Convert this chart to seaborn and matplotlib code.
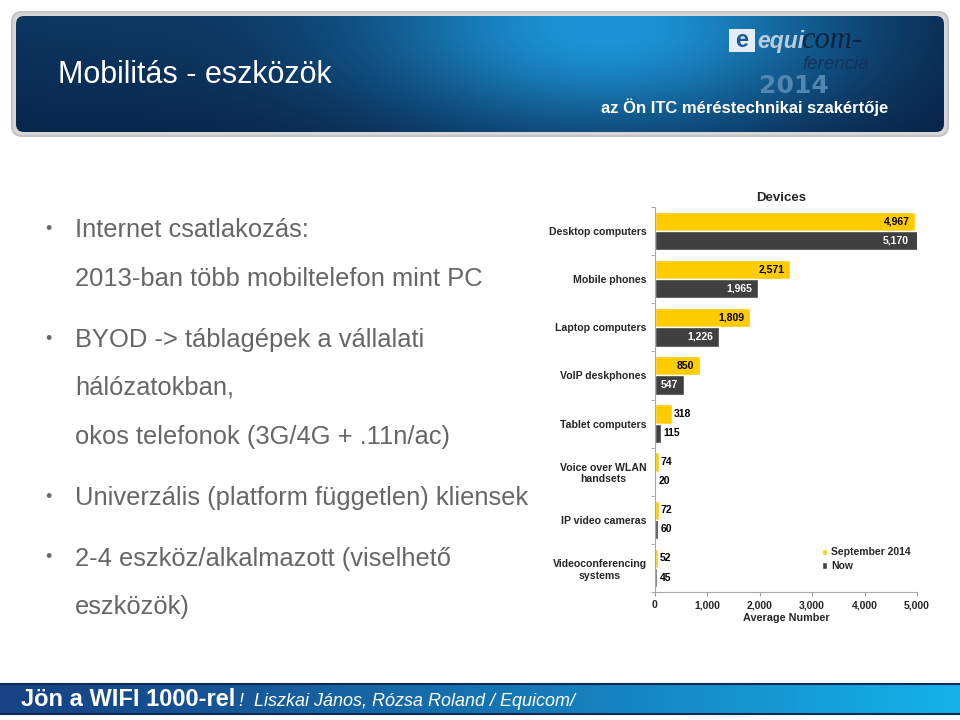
import numpy as np
import pandas as pd
import matplotlib
matplotlib.use("Agg")
import matplotlib.pyplot as plt
from matplotlib.patches import FancyBboxPatch, Rectangle
import seaborn as sns

# ---------------- data ----------------
categories = ["Desktop computers", "Mobile phones", "Laptop computers", "VoIP deskphones",
              "Tablet computers", "Voice over WLAN\nhandsets", "IP video cameras",
              "Videoconferencing\nsystems"]
sept_2014 = [4967, 2571, 1809, 850, 318, 74, 72, 52]
now_vals = [5170, 1965, 1226, 547, 115, 20, 60, 45]
series_names = ["September 2014", "Now"]
x_ticks = [0, 1000, 2000, 3000, 4000, 5000]

slide_title = "Mobilitás - eszközök"
bullet_lines = [
    (True, "Internet csatlakozás:"),
    (False, "2013-ban több mobiltelefon mint PC"),
    (True, "BYOD -> táblagépek a vállalati"),
    (False, "hálózatokban,"),
    (False, "okos telefonok (3G/4G + .11n/ac)"),
    (True, "Univerzális (platform független) kliensek"),
    (True, "2-4 eszköz/alkalmazott (viselhető"),
    (False, "eszközök)"),
]
bullet_baselines = [237, 286, 347, 395, 444, 505, 566, 614]

df = pd.DataFrame({
    "Device": categories * 2,
    "Series": [series_names[0]] * len(categories) + [series_names[1]] * len(categories),
    "Value": sept_2014 + now_vals,
})

# ---------------- style ----------------
sns.set_style("white")
plt.rcParams["font.family"] = ["Liberation Sans", "DejaVu Sans"]

fig = plt.figure(figsize=(9.6, 7.2), dpi=100)
fig.patch.set_facecolor("white")

# background axes in pixel coordinates
bg = fig.add_axes([0, 0, 1, 1], zorder=0)
bg.set_xlim(0, 960)
bg.set_ylim(720, 0)
bg.axis("off")

# header banner
shadow = FancyBboxPatch((12, 12), 936, 124, boxstyle="round,pad=0,rounding_size=10",
                        fc="#d6d6d6", ec="#c4c4c4", lw=1.5, transform=bg.transData)
bg.add_patch(shadow)
banner = FancyBboxPatch((16, 16), 928, 116, boxstyle="round,pad=0,rounding_size=8",
                        fc="none", ec="none", transform=bg.transData)
bg.add_patch(banner)
W, H = 600, 120
xs = np.linspace(0, 1, W)[None, :]
ys = np.linspace(0, 1, H)[:, None]
dark = np.array([0.03, 0.11, 0.25])
light = np.array([0.11, 0.58, 0.84])
t = np.exp(-((xs - 0.64) / 0.27) ** 2 - ((ys - 0.1) / 0.95) ** 2)
t = t + 0.22 * np.exp(-((xs - 0.05) / 0.35) ** 2) * (1 - 0.6 * ys)
t = np.clip(t, 0, 1)
img = dark[None, None, :] + t[:, :, None] * (light - dark)[None, None, :]
im = bg.imshow(img, extent=[16, 944, 132, 16], aspect="auto", interpolation="bilinear", zorder=1)
im.set_clip_path(banner)

bg.text(58, 83, slide_title, color="white", fontsize=22, va="baseline", ha="left", zorder=3)

# logo
bg.add_patch(Rectangle((729, 29), 26, 23, fc="#e4ecf4", ec="none", zorder=3))
bg.text(742, 40.5, "e", color="#1c5a9a", fontsize=17, fontweight="bold", ha="center",
        va="center", zorder=4)
bg.text(757, 48, "equi", color="#bccbdb", fontsize=16.5, fontweight="bold", style="italic",
        ha="left", va="baseline", zorder=3)
bg.text(801, 48, "com-", color="#0f2442", fontsize=22, style="italic", family="Liberation Serif",
        ha="left", va="baseline", zorder=3)
bg.text(759, 93, "2014", color="#5b8db5", fontsize=18, fontweight="bold",
        family="DejaVu Sans", ha="left", va="baseline", alpha=0.9, zorder=3)
bg.text(802, 69, "ferencia", color="#13335c", fontsize=13.5, style="italic", ha="left",
        va="baseline", zorder=4)
bg.text(888, 113, "az Ön ITC méréstechnikai szakértője", color="white", fontsize=12,
        fontweight="bold", ha="right", va="baseline", zorder=3)

# bullets
for (has_bullet, line), y in zip(bullet_lines, bullet_baselines):
    if has_bullet:
        bg.text(48, y - 8, "•", color="#6a6a6a", fontsize=13, ha="center", va="center")
    bg.text(75, y, line, color="#666666", fontsize=18.4, ha="left", va="baseline")

# footer
fw, fh = 600, 10
fx = np.linspace(0, 1, fw)[None, :]
c0 = np.array([0.09, 0.26, 0.52])
c1 = np.array([0.08, 0.70, 0.92])
fimg = c0[None, None, :] + (fx ** 1.2)[:, :, None] * (c1 - c0)[None, None, :]
fimg = np.repeat(fimg, fh, axis=0)
bg.imshow(fimg, extent=[0, 960, 714, 684], aspect="auto", zorder=1)
bg.plot([0, 960], [684, 684], color="#0e2a50", lw=1.5, zorder=2)
bg.plot([0, 960], [714, 714], color="#0e2a50", lw=1.5, zorder=2)
bg.text(21, 706, "Jön a WIFI 1000-rel", color="white", fontsize=17, fontweight="bold",
        ha="left", va="baseline", zorder=3)
bg.text(239, 706, "!  Liszkai János, Rózsa Roland / Equicom/", color="white", fontsize=13,
        style="italic", ha="left", va="baseline", zorder=3)

# ---------------- chart ----------------
ax = fig.add_axes([655 / 960, 1 - 592 / 720, 262 / 960, 385 / 720], zorder=2)
ax.patch.set_alpha(0)
palette = {series_names[0]: "#FFCC00", series_names[1]: "#404040"}
sns.barplot(data=df, y="Device", x="Value", hue="Series", hue_order=series_names,
            palette=palette, orient="h", width=0.8, saturation=1, ax=ax, legend=True)

ax.set_xlim(0, 5000)
ax.set_xticks(x_ticks)
ax.set_xticklabels([f"{v:,}" for v in x_ticks], fontsize=7.5, fontweight="bold")
ax.set_ylabel("")
ax.set_xlabel("Average Number", fontsize=7.8, fontweight="bold", labelpad=2)
ax.set_title("Devices", fontsize=9.5, fontweight="bold", pad=4, x=0.48)
for lbl in ax.get_yticklabels():
    lbl.set_fontsize(7.6)
    lbl.set_fontweight("bold")
    lbl.set_multialignment("center")
ax.tick_params(axis="y", length=0, pad=6)
ax.tick_params(axis="x", length=3, color="#999999", pad=3, direction="out", bottom=True)
ax.set_yticks(np.arange(-0.5, len(categories), 1.0), minor=True)
ax.tick_params(axis="y", which="minor", length=3, color="#999999", left=True)
for s in ["top", "right"]:
    ax.spines[s].set_visible(False)
for s in ["left", "bottom"]:
    ax.spines[s].set_color("#aaaaaa")
    ax.spines[s].set_linewidth(0.8)
ax.set_ylim(len(categories) - 0.5, -0.5)

# value labels
xmax = ax.get_xlim()[1]
for ci, cont in enumerate(ax.containers):
    for bar in cont:
        w = bar.get_width()
        yc = bar.get_y() + bar.get_height() / 2
        txt = f"{int(round(w)):,}"
        if w >= 500:
            ax.annotate(txt, (min(w, xmax), yc), xytext=(-6 if w > xmax else -4, 0),
                        textcoords="offset points", annotation_clip=False,
                        ha="right", va="center", fontsize=7.5, fontweight="bold",
                        color="black" if ci == 0 else "white")
        else:
            ax.annotate(txt, (w, yc), xytext=(1.5, 0), textcoords="offset points",
                        ha="left", va="center", fontsize=7.5, fontweight="bold", color="black")

ax.legend(loc="center left", bbox_to_anchor=(0.6, 0.085), frameon=False,
          handlelength=0.55, handleheight=0.55, handletextpad=0.4, labelspacing=0.35,
          prop={"size": 7.5, "weight": "bold"})

fig.savefig("out.png", dpi=100, facecolor="white")
